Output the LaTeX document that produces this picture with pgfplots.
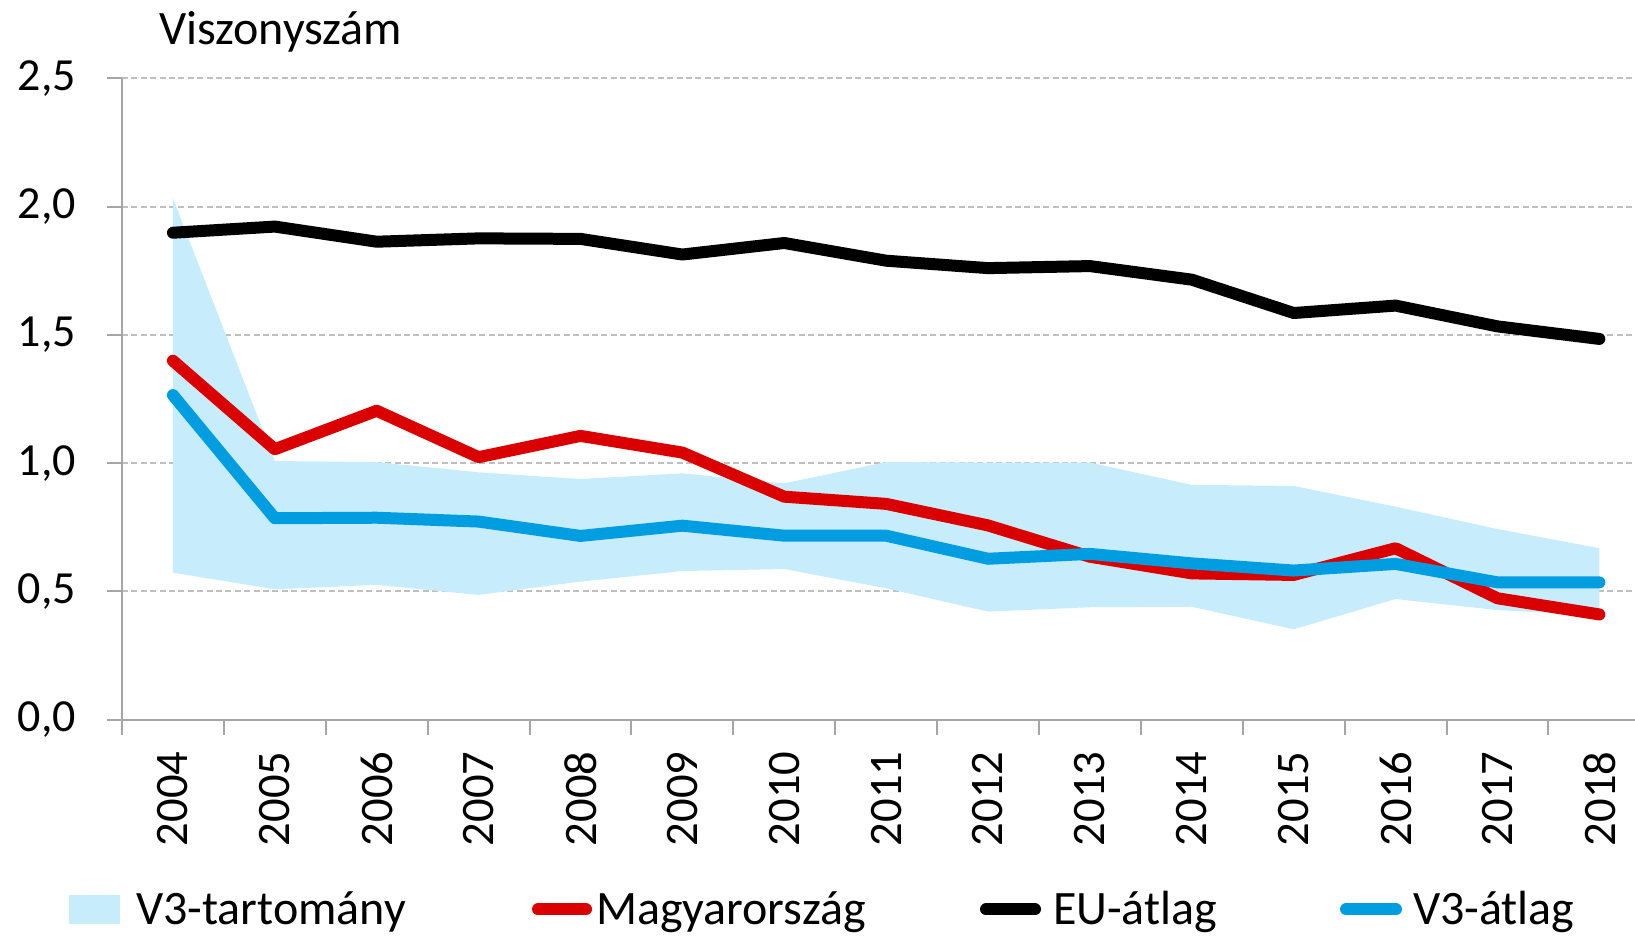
\documentclass[border=0pt]{standalone}
\usepackage{pgfplots}
\pgfplotsset{compat=1.18}
\usepackage{fontspec}
\setmainfont{Carlito}
\definecolor{bandc}{RGB}{199,236,252}
\definecolor{redc}{RGB}{218,0,0}
\definecolor{bluec}{RGB}{0,158,224}
\definecolor{gridc}{RGB}{191,191,191}
\definecolor{axisc}{RGB}{166,166,166}
\begin{document}
\begin{tikzpicture}
\begin{axis}[
  scale only axis, width=756.5pt, height=320.65pt,
  at={(0,0)}, anchor=south west,
  xmin=-0.5, xmax=14.35, ymin=0, ymax=2.5,
  axis lines*=left,
  axis line style={-, draw=axisc, line width=1pt},
  xtick={0,...,14},
  xticklabels={2004,2005,2006,2007,2008,2009,2010,2011,2012,2013,2014,2015,2016,2017,2018},
  major x tick style={draw=none},
  minor xtick={-0.5,0.5,...,13.5},
  minor x tick style={draw=axisc, line width=1pt},
  minor tick length=7.5pt,
  major tick length=7.5pt,
  tick align=outside,
  ytick={0,0.5,...,2.5},
  y tick style={draw=axisc, line width=1pt},
  ymajorgrids,
  major grid style={draw=gridc, line width=1pt, dash pattern=on 3pt off 1.7pt},
  yticklabel={\pgfmathprintnumber[fixed, fixed zerofill, precision=1, use comma, assume math mode=true]{\tick}},
  yticklabel style={font=\fontsize{23}{27}\selectfont, anchor=east, xshift=-12pt},
  xticklabel style={font=\fontsize{23.3}{27}\selectfont, rotate=90, anchor=east, xshift=-5pt},
  legend columns=4,
  legend style={at={(-0.035,-0.296)}, anchor=west, draw=none, fill=none,
    inner sep=0pt, outer sep=0pt, nodes={inner sep=0pt, outer sep=0pt},
    font=\fontsize{24}{28}\selectfont,
    /tikz/every even column/.append style={column sep=0pt},
    /tikz/every odd column/.append style={column sep=0pt}},
  legend cell align=left,
  clip=false,
]
\addplot[fill=bandc, draw=none,
  legend image code/.code={\path[draw=none, fill=none] (0pt,-8pt) rectangle (33.5pt,8pt);\fill[bandc] (0pt,-7.25pt) rectangle (25.5pt,7.25pt);}]
  coordinates {
  (0,2.032) (1,1.008) (2,1.004) (3,0.964) (4,0.938) (5,0.960) (6,0.921) (7,1.004)
  (8,1.002) (9,1.002) (10,0.915) (11,0.911) (12,0.830) (13,0.743) (14,0.668)
  (14,0.405) (13,0.427) (12,0.470) (11,0.352) (10,0.440) (9,0.438) (8,0.421)
  (7,0.512) (6,0.587) (5,0.579) (4,0.538) (3,0.486) (2,0.525) (1,0.508) (0,0.573)
  } -- cycle;
\addlegendentry{\makebox[198pt][l]{V3-tartomány}}
\addplot[redc, line width=6pt, line cap=round, line join=round,
  legend image code/.code={\path[draw=none, fill=none] (0pt,-8pt) rectangle (32pt,8pt);\draw[redc, line width=6pt, line cap=round] (3pt,0pt) -- (27pt,0pt);}]
  coordinates {
  (0,1.399) (1,1.054) (2,1.204) (3,1.023) (4,1.106) (5,1.041) (6,0.869) (7,0.841)
  (8,0.757) (9,0.635) (10,0.570) (11,0.564) (12,0.668) (13,0.473) (14,0.410)};
\addlegendentry{\makebox[192pt][l]{Magyarország}}
\addplot[black, line width=6pt, line cap=round, line join=round,
  legend image code/.code={\path[draw=none, fill=none] (0pt,-8pt) rectangle (36.5pt,8pt);\draw[black, line width=6pt, line cap=round] (3pt,0pt) -- (27.5pt,0pt);}]
  coordinates {
  (0,1.898) (1,1.922) (2,1.863) (3,1.876) (4,1.874) (5,1.813) (6,1.858) (7,1.789)
  (8,1.760) (9,1.768) (10,1.715) (11,1.585) (12,1.614) (13,1.533) (14,1.484)};
\addlegendentry{\makebox[143.5pt][l]{EU-átlag}}
\addplot[bluec, line width=6pt, line cap=round, line join=round,
  legend image code/.code={\path[draw=none, fill=none] (0pt,-8pt) rectangle (36.5pt,8pt);\draw[bluec, line width=6pt, line cap=round] (3pt,0pt) -- (28pt,0pt);}]
  coordinates {
  (0,1.265) (1,0.785) (2,0.787) (3,0.772) (4,0.716) (5,0.756) (6,0.717) (7,0.717)
  (8,0.627) (9,0.646) (10,0.609) (11,0.581) (12,0.607) (13,0.535) (14,0.535)};
\addlegendentry{\makebox[81pt][l]{V3-átlag}}
\node[anchor=base west, font=\fontsize{24}{28}\selectfont] at (rel axis cs:0,1) [xshift=15pt, yshift=17pt] {Viszonyszám};
\end{axis}
\pgfresetboundingbox
\path (-61pt,-109.7pt) rectangle (756.5pt,359.8pt);
\end{tikzpicture}
\end{document}
